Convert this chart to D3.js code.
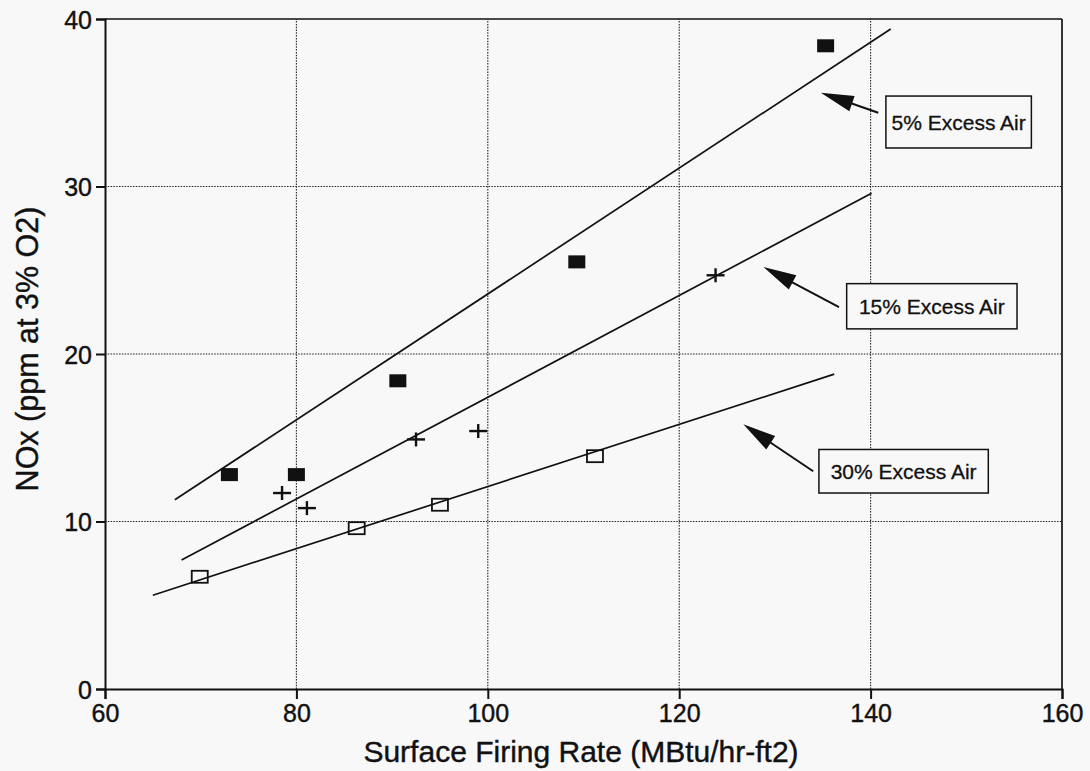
<!DOCTYPE html>
<html>
<head>
<meta charset="utf-8">
<script src="https://cdn.jsdelivr.net/npm/d3@7"></script>
<style>
  html, body { margin: 0; padding: 0; background: #f8f8f8; }
  svg { display: block; font-family: "Liberation Sans", Arial, Helvetica, sans-serif; }
</style>
</head>
<body>
<svg id="chart" width="1090" height="771"></svg>
<script>
// NOx emissions vs. surface firing rate at three excess-air levels

// Axis ticks
const xTicks = [60, 80, 100, 120, 140, 160];
const yTicks = [0, 10, 20, 30, 40];

// 5% excess air (filled squares)
const firing5 = [73.0, 80.0, 90.6, 109.3, 135.3];
const nox5    = [12.8, 12.8, 18.4, 25.5, 38.4];

// 15% excess air (plus markers)
const firing15 = [78.5, 81.1, 92.5, 99.0, 123.8];
const nox15    = [11.7, 10.8, 14.9, 15.4, 24.7];

// 30% excess air (open squares)
const firing30 = [69.9, 86.3, 95.0, 111.2];
const nox30    = [6.7, 9.6, 11.0, 13.9];

// Linear fit endpoints: [x start, y start, x end, y end]
const fit5  = [67.3, 11.3, 142.1, 39.4];
const fit15 = [68.0, 7.7, 140.1, 29.6];
const fit30 = [65.0, 5.6, 136.2, 18.8];

// Callout labels, arrow tip / tail and box corners in data units
const calloutLabels = ["5% Excess Air", "15% Excess Air", "30% Excess Air"];
const calloutTips   = [[134.8, 35.6], [128.8, 25.2], [126.7, 15.8]];
const calloutTails  = [[140.8, 34.4], [136.7, 22.8], [134.0, 13.0]];
const calloutBoxes  = [[141.6, 35.4, 156.8, 32.3], [137.5, 24.2, 155.3, 21.5], [134.6, 14.3, 152.3, 11.7]];

const svg = d3.select("#chart");
const W = 1090, H = 771;
const margin = { top: 19, right: 28, bottom: 82, left: 105 };
const iw = W - margin.left - margin.right;
const ih = H - margin.top - margin.bottom;

const x = d3.scaleLinear().domain([60, 160]).range([margin.left, margin.left + iw]);
const y = d3.scaleLinear().domain([0, 40]).range([margin.top + ih, margin.top]);

const ink = "#111";

svg.append("rect").attr("width", W).attr("height", H).attr("fill", "#f8f8f8");

// Dotted grid
const grid = svg.append("g");
grid.selectAll("line.gx").data(xTicks.filter(d => d > 60 && d < 160)).join("line")
  .attr("x1", d => x(d)).attr("x2", d => x(d))
  .attr("y1", y(0)).attr("y2", y(40))
  .attr("stroke", "#222").attr("stroke-width", 1.1).attr("stroke-dasharray", "1.5,1.3");
grid.selectAll("line.gy").data(yTicks.filter(d => d > 0 && d < 40)).join("line")
  .attr("x1", x(60)).attr("x2", x(160))
  .attr("y1", d => y(d)).attr("y2", d => y(d))
  .attr("stroke", "#222").attr("stroke-width", 1.1).attr("stroke-dasharray", "1.5,1.3");

// Frame top and right
svg.append("line").attr("x1", x(60)).attr("x2", x(160)).attr("y1", y(40)).attr("y2", y(40))
  .attr("stroke", ink).attr("stroke-width", 1.7);
svg.append("line").attr("x1", x(160)).attr("x2", x(160)).attr("y1", y(40)).attr("y2", y(0))
  .attr("stroke", ink).attr("stroke-width", 1.7);

// Axes
const xAxis = d3.axisBottom(x).tickValues(xTicks).tickSize(10).tickPadding(5).tickFormat(d3.format("d"));
const yAxis = d3.axisLeft(y).tickValues(yTicks).tickSize(9).tickPadding(4).tickFormat(d3.format("d"));

const gx = svg.append("g").attr("transform", `translate(0,${y(0)})`).call(xAxis);
const gy = svg.append("g").attr("transform", `translate(${x(60)},0)`).call(yAxis);
[gx, gy].forEach(g => {
  g.select(".domain").attr("stroke", ink).attr("stroke-width", 2);
  g.selectAll(".tick line").attr("stroke", ink).attr("stroke-width", 2);
  g.selectAll(".tick text").attr("fill", ink)
    .attr("stroke", ink).attr("stroke-width", 0.4)
    .style("font-family", "'Liberation Sans', Arial, sans-serif").style("font-size", "25px");
});
gy.selectAll(".tick text").attr("dy", "0.36em");

// Axis titles
svg.append("text")
  .attr("x", 581).attr("y", 762)
  .attr("text-anchor", "middle").attr("fill", ink)
  .attr("stroke", ink).attr("stroke-width", 0.4)
  .style("font-size", "30px")
  .text("Surface Firing Rate (MBtu/hr-ft2)");
svg.append("text")
  .attr("transform", `translate(38,349) rotate(-90)`)
  .attr("text-anchor", "middle").attr("fill", ink)
  .attr("stroke", ink).attr("stroke-width", 0.4)
  .style("font-size", "30.5px")
  .text("NOx (ppm at 3% O2)");

// Fit lines
const fits = [fit5, fit15, fit30];
svg.append("g").selectAll("line").data(fits).join("line")
  .attr("x1", d => x(d[0])).attr("y1", d => y(d[1]))
  .attr("x2", d => x(d[2])).attr("y2", d => y(d[3]))
  .attr("stroke", ink).attr("stroke-width", 1.7);

// Markers
const pts5 = firing5.map((v, i) => [v, nox5[i]]);
const pts15 = firing15.map((v, i) => [v, nox15[i]]);
const pts30 = firing30.map((v, i) => [v, nox30[i]]);

svg.append("g").selectAll("rect").data(pts5).join("rect")
  .attr("x", d => x(d[0]) - 8.5).attr("y", d => y(d[1]) - 6.5)
  .attr("width", 17).attr("height", 13).attr("fill", ink);

svg.append("g").selectAll("rect").data(pts30).join("rect")
  .attr("x", d => x(d[0]) - 8).attr("y", d => y(d[1]) - 6)
  .attr("width", 16).attr("height", 12)
  .attr("fill", "none").attr("stroke", ink).attr("stroke-width", 1.8);

const plus = svg.append("g").selectAll("g").data(pts15).join("g")
  .attr("transform", d => `translate(${x(d[0])},${y(d[1])})`);
plus.append("line").attr("x1", -9).attr("x2", 9).attr("y1", 0).attr("y2", 0)
  .attr("stroke", ink).attr("stroke-width", 2.4);
plus.append("line").attr("x1", 0).attr("x2", 0).attr("y1", -7).attr("y2", 7)
  .attr("stroke", ink).attr("stroke-width", 2.4);

// Callouts: box, label and arrow
const callouts = calloutLabels.map((label, i) => ({
  label, tip: calloutTips[i], tail: calloutTails[i], box: calloutBoxes[i]
}));
const cg = svg.append("g").selectAll("g").data(callouts).join("g");

cg.append("rect")
  .attr("x", d => x(d.box[0])).attr("y", d => y(d.box[1]))
  .attr("width", d => x(d.box[2]) - x(d.box[0]))
  .attr("height", d => y(d.box[3]) - y(d.box[1]))
  .attr("fill", "#f8f8f8").attr("stroke", ink).attr("stroke-width", 1.5);

cg.append("text")
  .attr("x", d => (x(d.box[0]) + x(d.box[2])) / 2)
  .attr("y", d => (y(d.box[1]) + y(d.box[3])) / 2)
  .attr("dy", "0.36em").attr("text-anchor", "middle").attr("fill", ink)
  .attr("stroke", ink).attr("stroke-width", 0.3)
  .style("font-size", "21px")
  .text(d => d.label);

cg.each(function(d) {
  const g = d3.select(this);
  const tx = x(d.tip[0]), ty = y(d.tip[1]);
  const sx = x(d.tail[0]), sy = y(d.tail[1]);
  const dx = sx - tx, dy = sy - ty;
  const len = Math.hypot(dx, dy);
  const ux = dx / len, uy = dy / len;
  const headLen = 33, halfW = 8;
  const bx = tx + ux * headLen, by = ty + uy * headLen;
  g.append("line")
    .attr("x1", bx - ux * 4).attr("y1", by - uy * 4)
    .attr("x2", sx).attr("y2", sy)
    .attr("stroke", ink).attr("stroke-width", 2);
  g.append("path")
    .attr("d", `M${tx},${ty} L${bx - uy * halfW},${by + ux * halfW} L${bx + uy * halfW},${by - ux * halfW} Z`)
    .attr("fill", ink);
});
</script>
</body>
</html>
